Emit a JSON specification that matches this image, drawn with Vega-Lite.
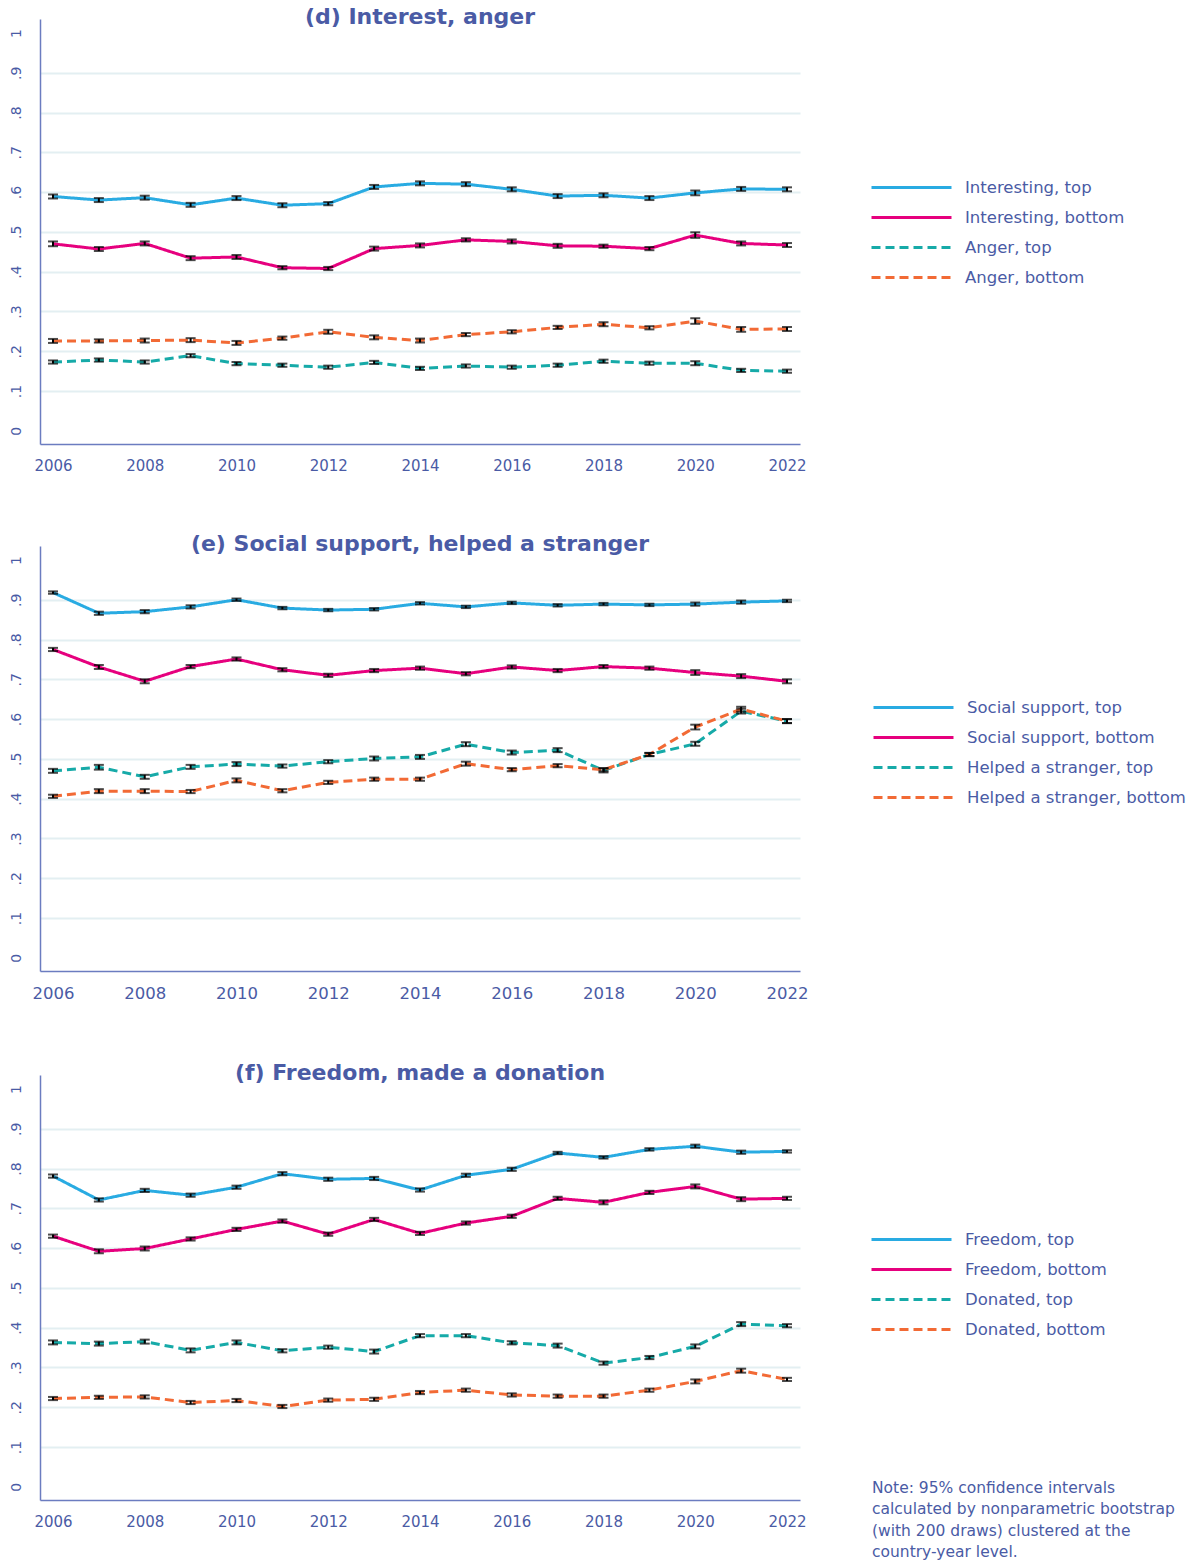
{
  "$schema": "https://vega.github.io/schema/vega-lite/v6.json",
  "padding": {"left": 8, "top": 6, "right": 5, "bottom": 5},
  "config": {
    "font": "DejaVu Sans",
    "view": {"stroke": null},
    "title": {"fontSize": 22, "fontWeight": "bold", "color": "#4a5ba5", "anchor": "middle", "offset": -10},
    "axis": {"domainColor": "#6b7cc0", "domainWidth": 1.5, "ticks": false, "tickSize": 0, "labelColor": "#4a5ba5"},
    "axisX": {"grid": false, "labelFontSize": 15, "labelPadding": 14},
    "axisY": {"gridColor": "#e3eff2", "gridWidth": 2, "labelAngle": 270, "labelFontSize": 14, "labelPadding": 17},
    "legend": {"title": null, "symbolType": "M-4,0H4", "symbolSize": 400, "symbolStrokeWidth": 4, "labelFontSize": 16.5, "labelColor": "#4a5ba5", "labelOffset": 42, "rowPadding": 10, "labelLimit": 400,
      "encode": {"symbols": {"update": {"strokeDash": {"signal": "datum.index >= 2 ? [12, 5] : [1, 0]"}}}}}
  },
  "datasets": {
    "d": [
      {"s":"Interesting, top","x":2006,"v":0.589,"e":0.005},{"s":"Interesting, top","x":2007,"v":0.580,"e":0.005},{"s":"Interesting, top","x":2008,"v":0.586,"e":0.005},{"s":"Interesting, top","x":2009,"v":0.568,"e":0.005},{"s":"Interesting, top","x":2010,"v":0.585,"e":0.005},{"s":"Interesting, top","x":2011,"v":0.567,"e":0.005},{"s":"Interesting, top","x":2012,"v":0.571,"e":0.004},{"s":"Interesting, top","x":2013,"v":0.613,"e":0.005},{"s":"Interesting, top","x":2014,"v":0.622,"e":0.005},{"s":"Interesting, top","x":2015,"v":0.620,"e":0.005},{"s":"Interesting, top","x":2016,"v":0.607,"e":0.005},{"s":"Interesting, top","x":2017,"v":0.590,"e":0.005},{"s":"Interesting, top","x":2018,"v":0.592,"e":0.005},{"s":"Interesting, top","x":2019,"v":0.585,"e":0.005},{"s":"Interesting, top","x":2020,"v":0.598,"e":0.006},{"s":"Interesting, top","x":2021,"v":0.608,"e":0.005},{"s":"Interesting, top","x":2022,"v":0.607,"e":0.005},
      {"s":"Interesting, bottom","x":2006,"v":0.470,"e":0.006},{"s":"Interesting, bottom","x":2007,"v":0.457,"e":0.005},{"s":"Interesting, bottom","x":2008,"v":0.471,"e":0.005},{"s":"Interesting, bottom","x":2009,"v":0.434,"e":0.005},{"s":"Interesting, bottom","x":2010,"v":0.437,"e":0.005},{"s":"Interesting, bottom","x":2011,"v":0.410,"e":0.004},{"s":"Interesting, bottom","x":2012,"v":0.408,"e":0.004},{"s":"Interesting, bottom","x":2013,"v":0.458,"e":0.005},{"s":"Interesting, bottom","x":2014,"v":0.466,"e":0.005},{"s":"Interesting, bottom","x":2015,"v":0.480,"e":0.004},{"s":"Interesting, bottom","x":2016,"v":0.476,"e":0.005},{"s":"Interesting, bottom","x":2017,"v":0.465,"e":0.005},{"s":"Interesting, bottom","x":2018,"v":0.464,"e":0.004},{"s":"Interesting, bottom","x":2019,"v":0.458,"e":0.004},{"s":"Interesting, bottom","x":2020,"v":0.492,"e":0.007},{"s":"Interesting, bottom","x":2021,"v":0.471,"e":0.005},{"s":"Interesting, bottom","x":2022,"v":0.467,"e":0.005},
      {"s":"Anger, top","x":2006,"v":0.173,"e":0.004},{"s":"Anger, top","x":2007,"v":0.178,"e":0.004},{"s":"Anger, top","x":2008,"v":0.173,"e":0.004},{"s":"Anger, top","x":2009,"v":0.189,"e":0.004},{"s":"Anger, top","x":2010,"v":0.169,"e":0.004},{"s":"Anger, top","x":2011,"v":0.165,"e":0.004},{"s":"Anger, top","x":2012,"v":0.160,"e":0.004},{"s":"Anger, top","x":2013,"v":0.172,"e":0.004},{"s":"Anger, top","x":2014,"v":0.157,"e":0.004},{"s":"Anger, top","x":2015,"v":0.163,"e":0.004},{"s":"Anger, top","x":2016,"v":0.160,"e":0.004},{"s":"Anger, top","x":2017,"v":0.165,"e":0.004},{"s":"Anger, top","x":2018,"v":0.175,"e":0.004},{"s":"Anger, top","x":2019,"v":0.170,"e":0.004},{"s":"Anger, top","x":2020,"v":0.170,"e":0.005},{"s":"Anger, top","x":2021,"v":0.152,"e":0.004},{"s":"Anger, top","x":2022,"v":0.150,"e":0.004},
      {"s":"Anger, bottom","x":2006,"v":0.226,"e":0.005},{"s":"Anger, bottom","x":2007,"v":0.226,"e":0.004},{"s":"Anger, bottom","x":2008,"v":0.227,"e":0.005},{"s":"Anger, bottom","x":2009,"v":0.228,"e":0.005},{"s":"Anger, bottom","x":2010,"v":0.221,"e":0.005},{"s":"Anger, bottom","x":2011,"v":0.233,"e":0.004},{"s":"Anger, bottom","x":2012,"v":0.249,"e":0.005},{"s":"Anger, bottom","x":2013,"v":0.235,"e":0.005},{"s":"Anger, bottom","x":2014,"v":0.227,"e":0.005},{"s":"Anger, bottom","x":2015,"v":0.242,"e":0.004},{"s":"Anger, bottom","x":2016,"v":0.249,"e":0.004},{"s":"Anger, bottom","x":2017,"v":0.260,"e":0.004},{"s":"Anger, bottom","x":2018,"v":0.268,"e":0.005},{"s":"Anger, bottom","x":2019,"v":0.259,"e":0.004},{"s":"Anger, bottom","x":2020,"v":0.276,"e":0.007},{"s":"Anger, bottom","x":2021,"v":0.255,"e":0.006},{"s":"Anger, bottom","x":2022,"v":0.256,"e":0.005}
    ],
    "e": [
      {"s":"Social support, top","x":2006,"v":0.918,"e":0.003},{"s":"Social support, top","x":2007,"v":0.866,"e":0.004},{"s":"Social support, top","x":2008,"v":0.870,"e":0.004},{"s":"Social support, top","x":2009,"v":0.882,"e":0.004},{"s":"Social support, top","x":2010,"v":0.900,"e":0.003},{"s":"Social support, top","x":2011,"v":0.879,"e":0.003},{"s":"Social support, top","x":2012,"v":0.874,"e":0.003},{"s":"Social support, top","x":2013,"v":0.876,"e":0.003},{"s":"Social support, top","x":2014,"v":0.891,"e":0.003},{"s":"Social support, top","x":2015,"v":0.882,"e":0.003},{"s":"Social support, top","x":2016,"v":0.892,"e":0.003},{"s":"Social support, top","x":2017,"v":0.886,"e":0.003},{"s":"Social support, top","x":2018,"v":0.889,"e":0.003},{"s":"Social support, top","x":2019,"v":0.887,"e":0.003},{"s":"Social support, top","x":2020,"v":0.889,"e":0.004},{"s":"Social support, top","x":2021,"v":0.894,"e":0.004},{"s":"Social support, top","x":2022,"v":0.897,"e":0.003},
      {"s":"Social support, bottom","x":2006,"v":0.775,"e":0.004},{"s":"Social support, bottom","x":2007,"v":0.731,"e":0.005},{"s":"Social support, bottom","x":2008,"v":0.695,"e":0.005},{"s":"Social support, bottom","x":2009,"v":0.732,"e":0.004},{"s":"Social support, bottom","x":2010,"v":0.751,"e":0.004},{"s":"Social support, bottom","x":2011,"v":0.724,"e":0.004},{"s":"Social support, bottom","x":2012,"v":0.710,"e":0.004},{"s":"Social support, bottom","x":2013,"v":0.722,"e":0.004},{"s":"Social support, bottom","x":2014,"v":0.728,"e":0.004},{"s":"Social support, bottom","x":2015,"v":0.714,"e":0.004},{"s":"Social support, bottom","x":2016,"v":0.731,"e":0.004},{"s":"Social support, bottom","x":2017,"v":0.722,"e":0.004},{"s":"Social support, bottom","x":2018,"v":0.732,"e":0.004},{"s":"Social support, bottom","x":2019,"v":0.728,"e":0.004},{"s":"Social support, bottom","x":2020,"v":0.717,"e":0.006},{"s":"Social support, bottom","x":2021,"v":0.708,"e":0.005},{"s":"Social support, bottom","x":2022,"v":0.695,"e":0.005},
      {"s":"Helped a stranger, top","x":2006,"v":0.470,"e":0.005},{"s":"Helped a stranger, top","x":2007,"v":0.479,"e":0.006},{"s":"Helped a stranger, top","x":2008,"v":0.455,"e":0.005},{"s":"Helped a stranger, top","x":2009,"v":0.480,"e":0.005},{"s":"Helped a stranger, top","x":2010,"v":0.487,"e":0.005},{"s":"Helped a stranger, top","x":2011,"v":0.482,"e":0.004},{"s":"Helped a stranger, top","x":2012,"v":0.493,"e":0.004},{"s":"Helped a stranger, top","x":2013,"v":0.501,"e":0.005},{"s":"Helped a stranger, top","x":2014,"v":0.505,"e":0.005},{"s":"Helped a stranger, top","x":2015,"v":0.537,"e":0.005},{"s":"Helped a stranger, top","x":2016,"v":0.516,"e":0.005},{"s":"Helped a stranger, top","x":2017,"v":0.522,"e":0.005},{"s":"Helped a stranger, top","x":2018,"v":0.471,"e":0.005},{"s":"Helped a stranger, top","x":2019,"v":0.511,"e":0.004},{"s":"Helped a stranger, top","x":2020,"v":0.538,"e":0.005},{"s":"Helped a stranger, top","x":2021,"v":0.620,"e":0.006},{"s":"Helped a stranger, top","x":2022,"v":0.595,"e":0.005},
      {"s":"Helped a stranger, bottom","x":2006,"v":0.406,"e":0.004},{"s":"Helped a stranger, bottom","x":2007,"v":0.419,"e":0.005},{"s":"Helped a stranger, bottom","x":2008,"v":0.419,"e":0.005},{"s":"Helped a stranger, bottom","x":2009,"v":0.418,"e":0.004},{"s":"Helped a stranger, bottom","x":2010,"v":0.446,"e":0.005},{"s":"Helped a stranger, bottom","x":2011,"v":0.420,"e":0.004},{"s":"Helped a stranger, bottom","x":2012,"v":0.441,"e":0.004},{"s":"Helped a stranger, bottom","x":2013,"v":0.449,"e":0.004},{"s":"Helped a stranger, bottom","x":2014,"v":0.449,"e":0.004},{"s":"Helped a stranger, bottom","x":2015,"v":0.488,"e":0.005},{"s":"Helped a stranger, bottom","x":2016,"v":0.473,"e":0.004},{"s":"Helped a stranger, bottom","x":2017,"v":0.483,"e":0.004},{"s":"Helped a stranger, bottom","x":2018,"v":0.473,"e":0.004},{"s":"Helped a stranger, bottom","x":2019,"v":0.511,"e":0.004},{"s":"Helped a stranger, bottom","x":2020,"v":0.580,"e":0.006},{"s":"Helped a stranger, bottom","x":2021,"v":0.625,"e":0.006},{"s":"Helped a stranger, bottom","x":2022,"v":0.595,"e":0.005}
    ],
    "f": [
      {"s":"Freedom, top","x":2006,"v":0.781,"e":0.004},{"s":"Freedom, top","x":2007,"v":0.721,"e":0.004},{"s":"Freedom, top","x":2008,"v":0.745,"e":0.004},{"s":"Freedom, top","x":2009,"v":0.733,"e":0.004},{"s":"Freedom, top","x":2010,"v":0.753,"e":0.004},{"s":"Freedom, top","x":2011,"v":0.787,"e":0.004},{"s":"Freedom, top","x":2012,"v":0.773,"e":0.004},{"s":"Freedom, top","x":2013,"v":0.775,"e":0.004},{"s":"Freedom, top","x":2014,"v":0.746,"e":0.004},{"s":"Freedom, top","x":2015,"v":0.783,"e":0.004},{"s":"Freedom, top","x":2016,"v":0.798,"e":0.004},{"s":"Freedom, top","x":2017,"v":0.839,"e":0.003},{"s":"Freedom, top","x":2018,"v":0.828,"e":0.003},{"s":"Freedom, top","x":2019,"v":0.848,"e":0.003},{"s":"Freedom, top","x":2020,"v":0.856,"e":0.004},{"s":"Freedom, top","x":2021,"v":0.841,"e":0.004},{"s":"Freedom, top","x":2022,"v":0.843,"e":0.003},
      {"s":"Freedom, bottom","x":2006,"v":0.630,"e":0.004},{"s":"Freedom, bottom","x":2007,"v":0.592,"e":0.005},{"s":"Freedom, bottom","x":2008,"v":0.599,"e":0.005},{"s":"Freedom, bottom","x":2009,"v":0.623,"e":0.004},{"s":"Freedom, bottom","x":2010,"v":0.647,"e":0.004},{"s":"Freedom, bottom","x":2011,"v":0.668,"e":0.004},{"s":"Freedom, bottom","x":2012,"v":0.635,"e":0.004},{"s":"Freedom, bottom","x":2013,"v":0.672,"e":0.004},{"s":"Freedom, bottom","x":2014,"v":0.637,"e":0.004},{"s":"Freedom, bottom","x":2015,"v":0.663,"e":0.004},{"s":"Freedom, bottom","x":2016,"v":0.680,"e":0.004},{"s":"Freedom, bottom","x":2017,"v":0.725,"e":0.004},{"s":"Freedom, bottom","x":2018,"v":0.715,"e":0.005},{"s":"Freedom, bottom","x":2019,"v":0.740,"e":0.004},{"s":"Freedom, bottom","x":2020,"v":0.755,"e":0.005},{"s":"Freedom, bottom","x":2021,"v":0.723,"e":0.005},{"s":"Freedom, bottom","x":2022,"v":0.725,"e":0.004},
      {"s":"Donated, top","x":2006,"v":0.363,"e":0.005},{"s":"Donated, top","x":2007,"v":0.360,"e":0.005},{"s":"Donated, top","x":2008,"v":0.365,"e":0.005},{"s":"Donated, top","x":2009,"v":0.343,"e":0.005},{"s":"Donated, top","x":2010,"v":0.363,"e":0.005},{"s":"Donated, top","x":2011,"v":0.342,"e":0.004},{"s":"Donated, top","x":2012,"v":0.351,"e":0.004},{"s":"Donated, top","x":2013,"v":0.340,"e":0.005},{"s":"Donated, top","x":2014,"v":0.380,"e":0.004},{"s":"Donated, top","x":2015,"v":0.380,"e":0.004},{"s":"Donated, top","x":2016,"v":0.362,"e":0.004},{"s":"Donated, top","x":2017,"v":0.355,"e":0.005},{"s":"Donated, top","x":2018,"v":0.311,"e":0.004},{"s":"Donated, top","x":2019,"v":0.325,"e":0.004},{"s":"Donated, top","x":2020,"v":0.353,"e":0.005},{"s":"Donated, top","x":2021,"v":0.409,"e":0.005},{"s":"Donated, top","x":2022,"v":0.405,"e":0.004},
      {"s":"Donated, bottom","x":2006,"v":0.222,"e":0.004},{"s":"Donated, bottom","x":2007,"v":0.225,"e":0.004},{"s":"Donated, bottom","x":2008,"v":0.226,"e":0.004},{"s":"Donated, bottom","x":2009,"v":0.212,"e":0.004},{"s":"Donated, bottom","x":2010,"v":0.217,"e":0.004},{"s":"Donated, bottom","x":2011,"v":0.202,"e":0.004},{"s":"Donated, bottom","x":2012,"v":0.218,"e":0.004},{"s":"Donated, bottom","x":2013,"v":0.220,"e":0.004},{"s":"Donated, bottom","x":2014,"v":0.237,"e":0.004},{"s":"Donated, bottom","x":2015,"v":0.243,"e":0.004},{"s":"Donated, bottom","x":2016,"v":0.231,"e":0.004},{"s":"Donated, bottom","x":2017,"v":0.228,"e":0.004},{"s":"Donated, bottom","x":2018,"v":0.228,"e":0.004},{"s":"Donated, bottom","x":2019,"v":0.243,"e":0.004},{"s":"Donated, bottom","x":2020,"v":0.265,"e":0.005},{"s":"Donated, bottom","x":2021,"v":0.292,"e":0.005},{"s":"Donated, bottom","x":2022,"v":0.270,"e":0.004}
    ],
    "note": [
      {"note": ["Note: 95% confidence intervals", "calculated by nonparametric bootstrap", "(with 200 draws) clustered at the", "country-year level."]}
    ]
  },
  "spacing": 60,
  "resolve": {"scale": {"color": "independent", "strokeDash": "independent", "strokeWidth": "independent", "y": "independent"}, "legend": {"color": "independent", "strokeDash": "independent"}},
  "vconcat": [
    {
      "width": 760, "height": 425,
      "title": {"text": "(d) Interest, anger"},
      "data": {"name": "d"},
      "encoding": {
        "x": {"field": "x", "type": "quantitative", "scale": {"domain": [2005.717, 2022.283], "nice": false, "zero": false}, "axis": {"title": null, "values": [2006, 2008, 2010, 2012, 2014, 2016, 2018, 2020, 2022], "format": "d"}},
        "y": {"field": "v", "type": "quantitative", "scale": {"domain": [-0.033, 1.035], "nice": false, "zero": false}, "axis": {"title": null, "values": [0, 0.1, 0.2, 0.3, 0.4, 0.5, 0.6, 0.7, 0.8, 0.9, 1], "labelExpr": "datum.value == 0 ? '0' : datum.value == 1 ? '1' : '.' + round(datum.value * 10)", "gridOpacity": {"condition": {"test": "datum.value < 0.05 || datum.value > 0.95", "value": 0}, "value": 1}}}
      },
      "layer": [
        {"mark": {"type": "line"},
         "encoding": {
           "color": {"field": "s", "type": "nominal", "scale": {"domain": ["Interesting, top", "Interesting, bottom", "Anger, top", "Anger, bottom"], "range": ["#29abe2", "#e6007e", "#16aaa8", "#f26a35"]}, "legend": {"orient": "none", "legendX": 860, "legendY": 157}},
           "strokeDash": {"field": "s", "type": "nominal", "scale": {"domain": ["Interesting, top", "Interesting, bottom", "Anger, top", "Anger, bottom"], "range": [[1, 0], [1, 0], [9, 5], [9, 5]]}, "legend": {"orient": "none", "legendX": 860, "legendY": 157}},
           "strokeWidth": {"field": "s", "type": "nominal", "scale": {"domain": ["Interesting, top", "Interesting, bottom", "Anger, top", "Anger, bottom"], "range": [3, 3, 2, 2]}, "legend": null}
         }},
        {"mark": {"type": "errorbar", "ticks": {"size": 10, "thickness": 2, "color": "black"}, "thickness": 2, "color": "black"},
         "encoding": {"yError": {"field": "e"}, "detail": {"field": "s", "type": "nominal"}}}
      ]
    },
    {
      "width": 760, "height": 425,
      "title": {"text": "(e) Social support, helped a stranger"},
      "data": {"name": "e"},
      "encoding": {
        "x": {"field": "x", "type": "quantitative", "scale": {"domain": [2005.717, 2022.283], "nice": false, "zero": false}, "axis": {"title": null, "values": [2006, 2008, 2010, 2012, 2014, 2016, 2018, 2020, 2022], "format": "d", "labelFontSize": 16.5}},
        "y": {"field": "v", "type": "quantitative", "scale": {"domain": [-0.033, 1.035], "nice": false, "zero": false}, "axis": {"title": null, "values": [0, 0.1, 0.2, 0.3, 0.4, 0.5, 0.6, 0.7, 0.8, 0.9, 1], "labelExpr": "datum.value == 0 ? '0' : datum.value == 1 ? '1' : '.' + round(datum.value * 10)", "gridOpacity": {"condition": {"test": "datum.value < 0.05 || datum.value > 0.95", "value": 0}, "value": 1}}}
      },
      "layer": [
        {"mark": {"type": "line"},
         "encoding": {
           "color": {"field": "s", "type": "nominal", "scale": {"domain": ["Social support, top", "Social support, bottom", "Helped a stranger, top", "Helped a stranger, bottom"], "range": ["#29abe2", "#e6007e", "#16aaa8", "#f26a35"]}, "legend": {"orient": "none", "legendX": 862, "legendY": 150}},
           "strokeDash": {"field": "s", "type": "nominal", "scale": {"domain": ["Social support, top", "Social support, bottom", "Helped a stranger, top", "Helped a stranger, bottom"], "range": [[1, 0], [1, 0], [9, 5], [9, 5]]}, "legend": {"orient": "none", "legendX": 862, "legendY": 150}},
           "strokeWidth": {"field": "s", "type": "nominal", "scale": {"domain": ["Social support, top", "Social support, bottom", "Helped a stranger, top", "Helped a stranger, bottom"], "range": [3, 3, 2, 2]}, "legend": null}
         }},
        {"mark": {"type": "errorbar", "ticks": {"size": 10, "thickness": 2, "color": "black"}, "thickness": 2, "color": "black"},
         "encoding": {"yError": {"field": "e"}, "detail": {"field": "s", "type": "nominal"}}}
      ]
    },
    {
      "spacing": 65,
      "resolve": {"scale": {"x": "independent", "y": "independent"}},
      "hconcat": [
        {
          "width": 760, "height": 425,
          "title": {"text": "(f) Freedom, made a donation"},
          "data": {"name": "f"},
          "encoding": {
            "x": {"field": "x", "type": "quantitative", "scale": {"domain": [2005.717, 2022.283], "nice": false, "zero": false}, "axis": {"title": null, "values": [2006, 2008, 2010, 2012, 2014, 2016, 2018, 2020, 2022], "format": "d"}},
            "y": {"field": "v", "type": "quantitative", "scale": {"domain": [-0.033, 1.035], "nice": false, "zero": false}, "axis": {"title": null, "values": [0, 0.1, 0.2, 0.3, 0.4, 0.5, 0.6, 0.7, 0.8, 0.9, 1], "labelExpr": "datum.value == 0 ? '0' : datum.value == 1 ? '1' : '.' + round(datum.value * 10)", "gridOpacity": {"condition": {"test": "datum.value < 0.05 || datum.value > 0.95", "value": 0}, "value": 1}}}
          },
          "layer": [
            {"mark": {"type": "line"},
             "encoding": {
               "color": {"field": "s", "type": "nominal", "scale": {"domain": ["Freedom, top", "Freedom, bottom", "Donated, top", "Donated, bottom"], "range": ["#29abe2", "#e6007e", "#16aaa8", "#f26a35"]}, "legend": {"orient": "none", "legendX": 860, "legendY": 153}},
               "strokeDash": {"field": "s", "type": "nominal", "scale": {"domain": ["Freedom, top", "Freedom, bottom", "Donated, top", "Donated, bottom"], "range": [[1, 0], [1, 0], [9, 5], [9, 5]]}, "legend": {"orient": "none", "legendX": 860, "legendY": 153}},
               "strokeWidth": {"field": "s", "type": "nominal", "scale": {"domain": ["Freedom, top", "Freedom, bottom", "Donated, top", "Donated, bottom"], "range": [3, 3, 2, 2]}, "legend": null}
             }},
            {"mark": {"type": "errorbar", "ticks": {"size": 10, "thickness": 2, "color": "black"}, "thickness": 2, "color": "black"},
             "encoding": {"yError": {"field": "e"}, "detail": {"field": "s", "type": "nominal"}}}
          ]
        },
        {
          "width": 320, "height": 425,
          "data": {"name": "note"},
          "mark": {"type": "text", "align": "left", "baseline": "top", "fontSize": 15.5, "lineHeight": 21.5, "color": "#4a5ba5"},
          "encoding": {
            "x": {"datum": 0, "type": "quantitative", "scale": {"domain": [0, 1]}, "axis": null},
            "y": {"datum": 0.016, "type": "quantitative", "scale": {"domain": [-0.033, 1.035], "nice": false, "zero": false}, "axis": null},
            "text": {"field": "note", "type": "nominal"}
          }
        }
      ]
    }
  ]
}
